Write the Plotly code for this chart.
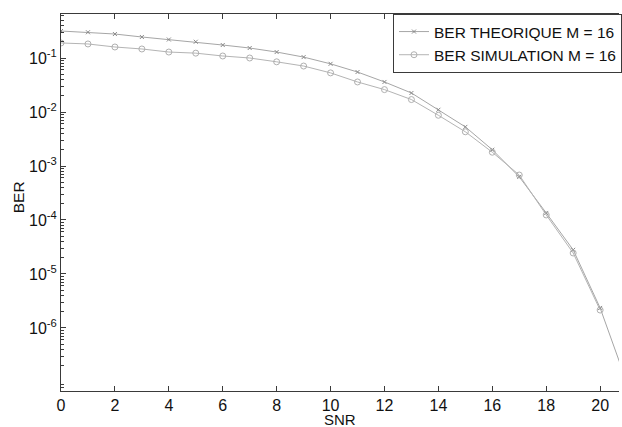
import plotly.graph_objects as go

# SNR values (dB)
snr_theory = [0, 1, 2, 3, 4, 5, 6, 7, 8, 9, 10, 11, 12, 13, 14, 15, 16, 17, 18, 19, 20, 21]
ber_theory = [0.316, 0.30, 0.278, 0.245, 0.22, 0.20, 0.174, 0.153, 0.129, 0.104, 0.078,
              0.055, 0.036, 0.0225, 0.011, 0.0053, 0.0020, 6.3e-4, 1.35e-4, 2.8e-5,
              2.35e-6, 9.5e-8]

snr_sim = [0, 1, 2, 3, 4, 5, 6, 7, 8, 9, 10, 11, 12, 13, 14, 15, 16, 17, 18, 19, 20]
ber_sim = [0.19, 0.182, 0.16, 0.147, 0.129, 0.123, 0.109, 0.10, 0.085, 0.071, 0.053,
           0.036, 0.026, 0.017, 0.0087, 0.0043, 0.0018, 6.8e-4, 1.24e-4, 2.45e-5, 2.15e-6]

x_ticks = [0, 2, 4, 6, 8, 10, 12, 14, 16, 18, 20]
y_tick_vals = [1e-1, 1e-2, 1e-3, 1e-4, 1e-5, 1e-6]
y_tick_text = ["10<sup>-1</sup>", "10<sup>-2</sup>", "10<sup>-3</sup>",
               "10<sup>-4</sup>", "10<sup>-5</sup>", "10<sup>-6</sup>"]
y_minor_vals = [m * 10.0 ** e for e in range(-8, 0) for m in range(2, 10)]

FONT = "Liberation Sans, Arial, Helvetica, sans-serif"
AX = "#3a3a3a"

fig = go.Figure()
fig.add_trace(go.Scatter(
    x=snr_theory, y=ber_theory, mode="lines+markers",
    name="BER THEORIQUE M = 16",
    line=dict(color="#a6a6a6", width=1),
    marker=dict(symbol="x-thin", size=4, color="#8a8a8a", line=dict(color="#8a8a8a", width=1)),
))
fig.add_trace(go.Scatter(
    x=snr_sim, y=ber_sim, mode="lines+markers",
    name="BER SIMULATION M = 16",
    line=dict(color="#b4b4b4", width=1),
    marker=dict(symbol="circle-open", size=6, color="#b0b0b0", line=dict(color="#b0b0b0", width=1)),
))

fig.update_layout(
    width=622, height=427,
    margin=dict(l=61, r=0, t=14, b=36),
    paper_bgcolor="white", plot_bgcolor="white",
    font=dict(family=FONT, size=16, color="#111"),
    showlegend=True,
    legend=dict(
        x=(395 - 61) / 561, y=1, xanchor="left", yanchor="top",
        bgcolor="white", bordercolor=AX, borderwidth=1,
        font=dict(family=FONT, size=15.5, color="#111"),
        tracegroupgap=0, itemwidth=30,
    ),
    xaxis=dict(
        range=[0, 20.7], tickmode="array", tickvals=x_ticks,
        ticks="inside", ticklen=5, tickcolor=AX,
        showline=True, linecolor=AX, linewidth=1, mirror="ticks",
        showgrid=False, zeroline=False,
        tickfont=dict(size=16),
    ),
    yaxis=dict(
        type="log", range=[-7.167, -0.185],
        tickmode="array", tickvals=y_tick_vals, ticktext=y_tick_text,
        ticks="inside", ticklen=5, tickcolor=AX,
        minor=dict(tickmode="array", tickvals=y_minor_vals, ticks="inside",
                   ticklen=3, tickcolor=AX, showgrid=False),
        showline=True, linecolor=AX, linewidth=1, mirror=False,
        showgrid=False, zeroline=False,
        tickfont=dict(size=16),
    ),
    annotations=[
        dict(text="SNR", xref="paper", yref="paper", x=0.5, y=-(419 - 391) / 377,
             xanchor="center", yanchor="middle", showarrow=False, font=dict(size=15)),
        dict(text="BER", xref="paper", yref="paper", x=-(61 - 18) / 561, y=(391 - 197) / 377,
             xanchor="center", yanchor="middle", showarrow=False, textangle=-90,
             font=dict(size=15.5)),
    ],
)

fig.write_html("out.html")
